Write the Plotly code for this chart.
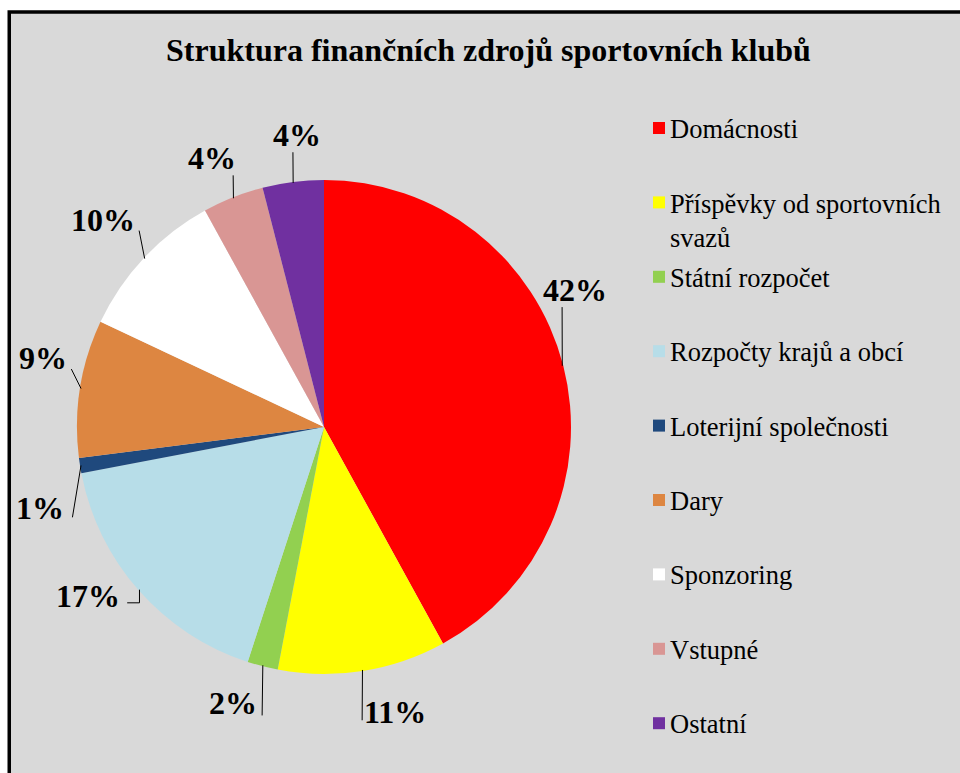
import math
import plotly.graph_objects as go

# ---- data ----
categories = ["Domácnosti", "Příspěvky od sportovních svazů", "Státní rozpočet",
              "Rozpočty krajů a obcí", "Loterijní společnosti", "Dary",
              "Sponzoring", "Vstupné", "Ostatní"]
legend_text = ["Domácnosti", "Příspěvky od sportovních<br>svazů", "Státní rozpočet",
               "Rozpočty krajů a obcí", "Loterijní společnosti", "Dary",
               "Sponzoring", "Vstupné", "Ostatní"]
values = [42, 11, 2, 17, 1, 9, 10, 4, 4]
colors = ["#ff0000", "#ffff00", "#92d050", "#b7dde8", "#1f497d",
          "#dd8641", "#ffffff", "#d99694", "#7030a0"]
title = "Struktura finančních zdrojů sportovních klubů"

# ---- layout constants (pixels) ----
W, H = 960, 773
CX, CY, R = 324, 427, 247
label_nudge = [-14.2, -5, 3.8, 5.8, -7, 4.8, 0, -1, 1.9]
label_rad = [286, 294, 291, 290, 295, 289, 303, 291, 293]
leader_end = [(-13, 17), (-33, 8), (29, 12), (39, 7), (32, 9), (28, 11), (36, 11), (21, 17), (-4, 17)]
elbow = [False, False, False, True, False, False, False, False, False]
LEG_FS = 26.5

def px(x):
    return x / W

def py(y):
    return 1 - y / H

SERIF = "Liberation Serif"

fig = go.Figure(go.Pie(
    labels=categories,
    values=values,
    marker=dict(colors=colors, line=dict(width=0)),
    sort=False,
    direction="clockwise",
    rotation=0,
    textinfo="none",
    hoverinfo="label+percent",
    showlegend=False,
    domain=dict(x=[px(CX - R), px(CX + R)], y=[py(CY + R), py(CY - R)]),
))

shapes = [dict(type="rect", xref="paper", yref="paper",
               x0=px(9.25), x1=px(W + 20), y0=py(H + 20), y1=py(12),
               fillcolor="#d9d9d9", line=dict(color="black", width=3.5), layer="below")]
annotations = [dict(text="<b>" + title + "</b>", xref="paper", yref="paper",
                    x=px(488), y=py(50), xanchor="center", yanchor="middle",
                    showarrow=False, font=dict(family=SERIF, size=32, color="black"))]

total = sum(values)
cum = 0
for i, v in enumerate(values):
    mid = (cum + v / 2) / total * 360
    cum += v
    a = math.radians(mid)
    ex, ey = CX + (R - 1) * math.sin(a), CY - (R - 1) * math.cos(a)
    la = math.radians(mid + label_nudge[i])
    lx, ly = CX + label_rad[i] * math.sin(la), CY - label_rad[i] * math.cos(la)
    endx, endy = lx + leader_end[i][0], ly + leader_end[i][1]
    pct = f"{round(v / total * 100)}%"
    annotations.append(dict(text="<b>" + pct + "</b>", xref="paper", yref="paper",
                            x=px(lx), y=py(ly), xanchor="center", yanchor="middle",
                            showarrow=False, font=dict(family=SERIF, size=32, color="black")))
    if elbow[i]:
        path = f"M {px(ex)},{py(ey)} L {px(ex)},{py(endy)} L {px(endx)},{py(endy)}"
    else:
        path = f"M {px(ex)},{py(ey)} L {px(endx)},{py(endy)}"
    shapes.append(dict(type="path", xref="paper", yref="paper", path=path,
                       line=dict(color="black", width=1)))

# manual legend
for i, (lab, col) in enumerate(zip(legend_text, colors)):
    yc = 128 + 74.4 * i
    shapes.append(dict(type="rect", xref="paper", yref="paper",
                       x0=px(653), x1=px(665), y0=py(yc + 6), y1=py(yc - 6),
                       fillcolor=col, line=dict(width=0)))
    nlines = lab.count("<br>") + 1
    ymid = yc + 1 + (nlines - 1) * 1.3 * LEG_FS / 2
    annotations.append(dict(text=lab, xref="paper", yref="paper", x=px(668), y=py(ymid),
                            xanchor="left", yanchor="middle", align="left", showarrow=False,
                            font=dict(family=SERIF, size=LEG_FS, color="black")))

fig.update_layout(
    width=W, height=H,
    margin=dict(l=0, r=0, t=0, b=0),
    paper_bgcolor="white",
    plot_bgcolor="white",
    font=dict(family=SERIF),
    shapes=shapes,
    annotations=annotations,
)

fig.write_html("out.html", config={"displayModeBar": False},
               post_script="document.body.style.margin='0px';")
